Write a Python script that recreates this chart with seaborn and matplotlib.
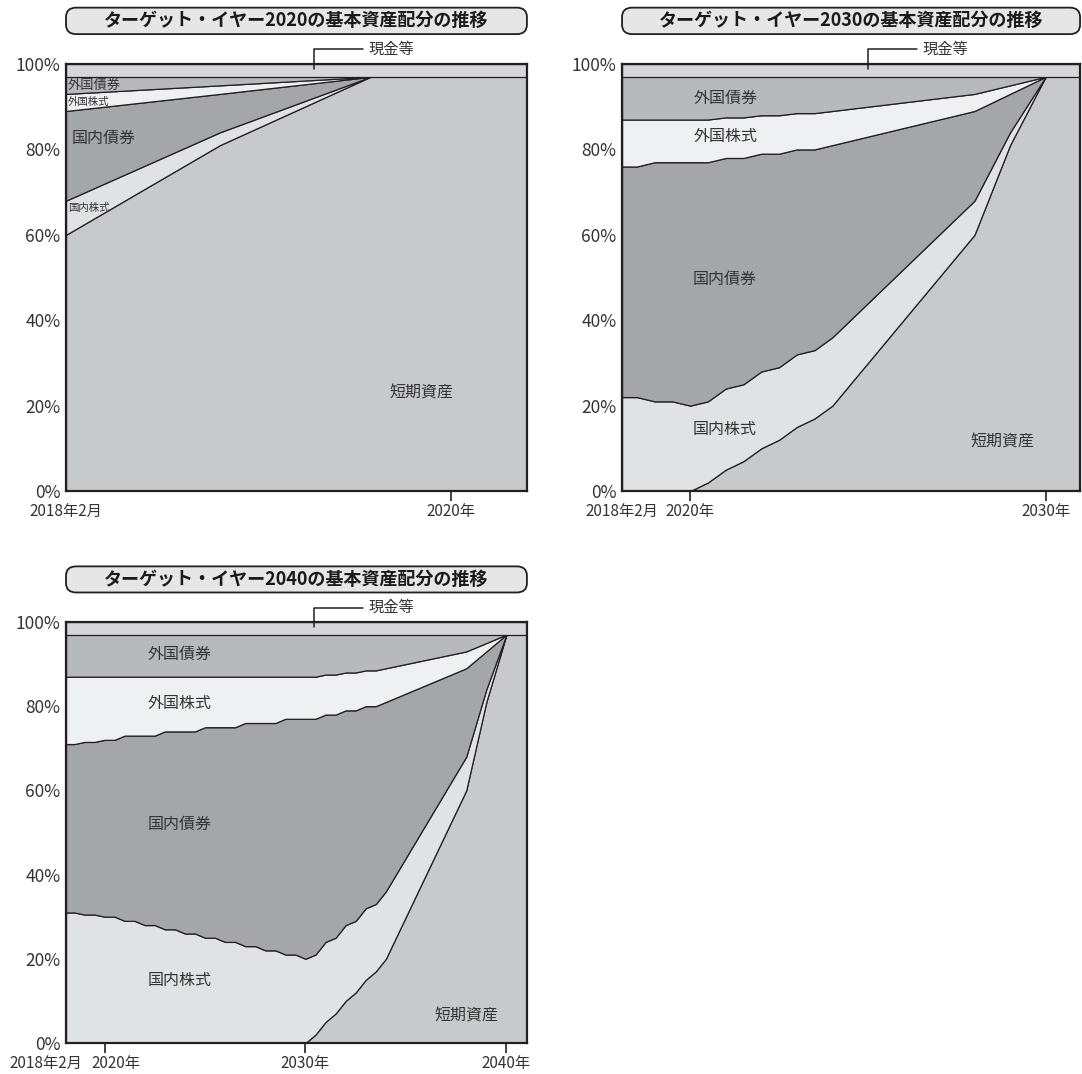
import matplotlib
matplotlib.use("Agg")
import matplotlib.pyplot as plt
from matplotlib.patches import FancyBboxPatch
from matplotlib.transforms import ScaledTranslation
import numpy as np
import pandas as pd
import seaborn as sns

sns.set_theme(style="white")
plt.rcParams['font.family'] = ['Noto Sans CJK JP', 'DejaVu Sans']

# 資産クラス (下から積み上げ)
assets = ["短期資産", "国内株式", "国内債券", "外国株式", "外国債券", "現金等"]
colors = ["#c8c9cb", "#e1e2e4", "#a5a6a9", "#eff0f2", "#b8b9bc", "#d6d7d9"]

# ターゲット・イヤー2020 (%)
dates_2020 = [2018.083, 2018.85, 2019.6, 2020.38]
short_2020 = [60, 81, 97, 97]
jstock_2020 = [8, 3, 0, 0]
jbond_2020 = [21, 9, 0, 0]
fstock_2020 = [4, 2, 0, 0]
fbond_2020 = [4, 2, 0, 0]
cash_2020 = [3, 3, 3, 3]

# ターゲット・イヤー2030 (%)
dates_2030 = [2018.083, 2018.5, 2019, 2019.5, 2020, 2020.5, 2021, 2021.5, 2022, 2022.5,
              2023, 2023.5, 2024, 2028, 2029, 2030, 2031]
short_2030 = [0, 0, 0, 0, 0, 2, 5, 7, 10, 12, 15, 17, 20, 60, 81, 97, 97]
jstock_2030 = [22, 22, 21, 21, 20, 19, 19, 18, 18, 17, 17, 16, 16, 8, 3, 0, 0]
jbond_2030 = [54, 54, 56, 56, 57, 56, 54, 53, 51, 50, 48, 47, 45, 21, 9, 0, 0]
fstock_2030 = [11, 11, 10, 10, 10, 10, 9.5, 9.5, 9, 9, 8.5, 8.5, 8, 4, 2, 0, 0]
fbond_2030 = [10, 10, 10, 10, 10, 10, 9.5, 9.5, 9, 9, 8.5, 8.5, 8, 4, 2, 0, 0]
cash_2030 = [3, 3, 3, 3, 3, 3, 3, 3, 3, 3, 3, 3, 3, 3, 3, 3, 3]

# ターゲット・イヤー2040 (%)
dates_2040 = [2018.083, 2018.5, 2019, 2019.5, 2020, 2020.5, 2021, 2021.5, 2022, 2022.5,
              2023, 2023.5, 2024, 2024.5, 2025, 2025.5, 2026, 2026.5, 2027, 2027.5,
              2028, 2028.5, 2029, 2029.5, 2030, 2030.5, 2031, 2031.5, 2032, 2032.5,
              2033, 2033.5, 2034, 2038, 2039, 2040, 2041]
short_2040 = [0, 0, 0, 0, 0, 0, 0, 0, 0, 0, 0, 0, 0, 0, 0, 0, 0, 0, 0, 0, 0, 0, 0, 0, 0,
              2, 5, 7, 10, 12, 15, 17, 20, 60, 81, 97, 97]
jstock_2040 = [31, 31, 30.5, 30.5, 30, 30, 29, 29, 28, 28, 27, 27, 26, 26, 25, 25, 24, 24,
               23, 23, 22, 22, 21, 21, 20, 19, 19, 18, 18, 17, 17, 16, 16, 8, 3, 0, 0]
jbond_2040 = [40, 40, 41, 41, 42, 42, 44, 44, 45, 45, 47, 47, 48, 48, 50, 50, 51, 51,
              53, 53, 54, 54, 56, 56, 57, 56, 54, 53, 51, 50, 48, 47, 45, 21, 9, 0, 0]
fstock_2040 = [16, 16, 15.5, 15.5, 15, 15, 14, 14, 14, 14, 13, 13, 13, 13, 12, 12, 12, 12,
               11, 11, 11, 11, 10, 10, 10, 10, 9.5, 9.5, 9, 9, 8.5, 8.5, 8, 4, 2, 0, 0]
fbond_2040 = [10, 10, 10, 10, 10, 10, 10, 10, 10, 10, 10, 10, 10, 10, 10, 10, 10, 10,
              10, 10, 10, 10, 10, 10, 10, 10, 9.5, 9.5, 9, 9, 8.5, 8.5, 8, 4, 2, 0, 0]
cash_2040 = [3] * len(dates_2040)

line_c = "#231f20"
text_c = "#333333"


def draw(ax, dates, shares, xmax, xticks, xlabels, title, labels, left_dx=0, tick_dx=None):
    df = pd.DataFrame(dict(zip(assets, shares)), index=dates)
    ax.stackplot(df.index, *[df[a] for a in assets], colors=colors,
                 edgecolor=line_c, linewidth=0.9)
    ax.set_xlim(dates[0], xmax)
    ax.set_ylim(0, 100)
    ax.set_yticks([0, 20, 40, 60, 80, 100], ["0%", "20%", "40%", "60%", "80%", "100%"])
    ax.set_xticks(xticks, xlabels)
    ax.set_xticks([dates[0]], ["2018年2月"], minor=True)
    ax.tick_params(axis="y", direction="in", length=7.2, width=1.2, color=line_c,
                   labelsize=12.5, labelcolor=text_c, pad=4, left=True)
    ax.tick_params(axis="x", which="major", direction="inout", length=14.4, width=1.2,
                   color=line_c, labelsize=11, labelcolor=text_c, pad=1.5, bottom=True)
    ax.tick_params(axis="x", which="minor", length=0, labelsize=11, labelcolor=text_c,
                   pad=8.7, bottom=True)
    for s in ax.spines.values():
        s.set_visible(True)
        s.set_color(line_c)
        s.set_linewidth(1.6)
    ax.grid(False)

    fig = ax.figure
    if left_dx:
        for lab in ax.get_xticklabels(minor=True):
            lab.set_transform(lab.get_transform() + ScaledTranslation(left_dx / 100, 0, fig.dpi_scale_trans))
    if tick_dx:
        for lab in ax.get_xticklabels():
            if lab.get_text() == "2020年":
                lab.set_transform(lab.get_transform() + ScaledTranslation(tick_dx / 100, 0, fig.dpi_scale_trans))

    # タイトルの枠
    box = FancyBboxPatch((0, 1.07), 1, 0.062, boxstyle="round,pad=0,rounding_size=0.022",
                         transform=ax.transAxes, facecolor="#e6e6e7", edgecolor=line_c,
                         linewidth=1.3, clip_on=False)
    ax.add_patch(box)
    ax.text(0.5, 1.101, title, transform=ax.transAxes, ha="center", va="center",
            fontsize=13, fontweight="bold", color="#1a1a1a")

    # 現金等
    ax.plot([0.538, 0.538, 0.644], [0.988, 1.034, 1.034], transform=ax.transAxes,
            color=line_c, linewidth=1.1, clip_on=False)
    ax.text(0.657, 1.034, "現金等", transform=ax.transAxes, ha="left", va="center",
            fontsize=11, color=text_c)

    tr = ax.get_yaxis_transform()
    for txt, x, y, size, ha in labels:
        ax.text(x, y, txt, transform=tr, ha=ha, va="center", fontsize=size, color=text_c)


fig = plt.figure(figsize=(10.82, 10.74), dpi=100)
ax1 = fig.add_axes([0.061, 0.5428, 0.426, 0.3976])
ax2 = fig.add_axes([0.5749, 0.5428, 0.4233, 0.3976])
ax3 = fig.add_axes([0.061, 0.0289, 0.426, 0.392])

draw(ax1, dates_2020,
     [short_2020, jstock_2020, jbond_2020, fstock_2020, fbond_2020, cash_2020],
     2020.38, [2020], ["2020年"], "ターゲット・イヤー2020の基本資産配分の推移",
     [("外国債券", 0.004, 95.0, 9.5, "left"),
      ("外国株式", 0.004, 91.0, 7.5, "left"),
      ("国内債券", 0.013, 82.5, 11.5, "left"),
      ("国内株式", 0.004, 66.3, 7.5, "left"),
      ("短期資産", 0.772, 23.0, 11.5, "center")])

draw(ax2, dates_2030,
     [short_2030, jstock_2030, jbond_2030, fstock_2030, fbond_2030, cash_2030],
     2030.97, [2020, 2030], ["2020年", "2030年"], "ターゲット・イヤー2030の基本資産配分の推移",
     [("外国債券", 0.225, 92.0, 11.5, "center"),
      ("外国株式", 0.225, 83.0, 11.5, "center"),
      ("国内債券", 0.225, 49.6, 11.5, "center"),
      ("国内株式", 0.225, 14.5, 11.5, "center"),
      ("短期資産", 0.83, 11.5, 11.5, "center")])

draw(ax3, dates_2040,
     [short_2040, jstock_2040, jbond_2040, fstock_2040, fbond_2040, cash_2040],
     2041.02, [2020, 2030, 2040], ["2020年", "2030年", "2040年"],
     "ターゲット・イヤー2040の基本資産配分の推移",
     [("外国債券", 0.247, 92.2, 11.5, "center"),
      ("外国株式", 0.247, 80.6, 11.5, "center"),
      ("国内債券", 0.247, 52.0, 11.5, "center"),
      ("国内株式", 0.247, 14.8, 11.5, "center"),
      ("短期資産", 0.868, 6.5, 11.5, "center")],
     left_dx=-20, tick_dx=11)

fig.savefig("out.png", dpi=100)
